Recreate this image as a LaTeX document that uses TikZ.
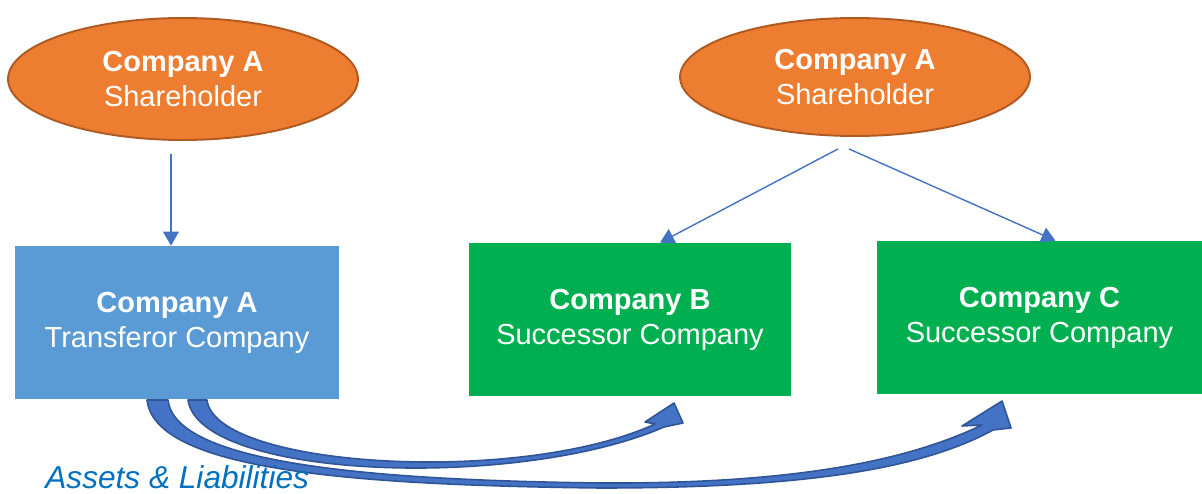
\documentclass[tikz,border=0pt]{standalone}
\usepackage{fontspec}
\setmainfont{Liberation Sans}
\usetikzlibrary{shapes.geometric,arrows.meta,calc,positioning}
\definecolor{holderorange}{HTML}{ED7D31}
\definecolor{holderedge}{HTML}{AE5A21}
\definecolor{transferblue}{HTML}{5B9BD5}
\definecolor{successorgreen}{HTML}{00B050}
\definecolor{linkblue}{HTML}{4472C4}
\definecolor{flowedge}{HTML}{2F5597}
\definecolor{labelblue}{HTML}{0070C0}
\tikzset{
    holder/.style={ellipse,fill=holderorange,draw=holderedge,line width=1.1pt,minimum width=7cm,minimum height=2.44cm,inner sep=0pt,align=center,text=white,font=\fontsize{16.5}{20}\selectfont},
    company/.style={rectangle,minimum width=6.48cm,minimum height=3.06cm,inner sep=0pt,align=center,text=white,font=\fontsize{16.5}{20}\selectfont},
    transferor/.style={company,fill=transferblue},
    successor/.style={company,fill=successorgreen},
    link/.style={linkblue,line width=0.8pt,-{Triangle[length=8pt,width=9pt]}},
    flow/.style={fill=linkblue,draw=flowedge,line width=0.9pt,line join=round}
}

\begin{document}
\begin{tikzpicture}[x=0.02cm,y=-0.02cm]
    \useasboundingbox (0,0) rectangle (1202,493);

    % shareholders
    \node[holder] (shA) at (183,79) {\textbf{Company A}\\Shareholder};
    \node[holder,minimum height=2.36cm] (shB) at (855,77) {\textbf{Company A}\\Shareholder};

    % companies
    \node[transferor] (tA) at (177,322.5) {\textbf{Company A}\\Transferor Company};
    \node[successor,minimum width=6.44cm] (tB) at (630,319.5) {\textbf{Company B}\\Successor Company};
    \node[successor,minimum width=6.5cm] (tC) at (1039.5,317.5) {\textbf{Company C}\\Successor Company};

    \draw[link] ($(shA.south)+(-12,13)$) -- ($(tA.north)+(-6,0)$);
    \draw[link] ($(shB.south)+(-17,12)$) -- ($(tB.north)+(30,0)$);
    \draw[link] ($(shB.south)+(-6,12)$) -- ($(tC.north)+(16,0)$);

    % assets and liabilities
    \draw[flow] (147,400) .. controls (155,470) and (350,485) .. (600,488)
        .. controls (800,488) and (920,470) .. (993,430) -- (1011,428) -- (1002,401)
        -- (962,426) -- (982,425)
        .. controls (905,462) and (790,484) .. (600,483)
        .. controls (360,480) and (175,462) .. (168,400) -- cycle;
    \draw[flow] (188,400) .. controls (200,480) and (520,490) .. (664,427)
        -- (683,423) -- (674,403) -- (645,422) -- (655,424)
        .. controls (520,486) and (215,468) .. (207,400) -- cycle;

    \node[anchor=base west,inner sep=0pt,text=labelblue,font=\fontsize{18}{20}\selectfont\itshape] (assets) at (45,488.5) {Assets \& Liabilities};
\end{tikzpicture}
\end{document}
